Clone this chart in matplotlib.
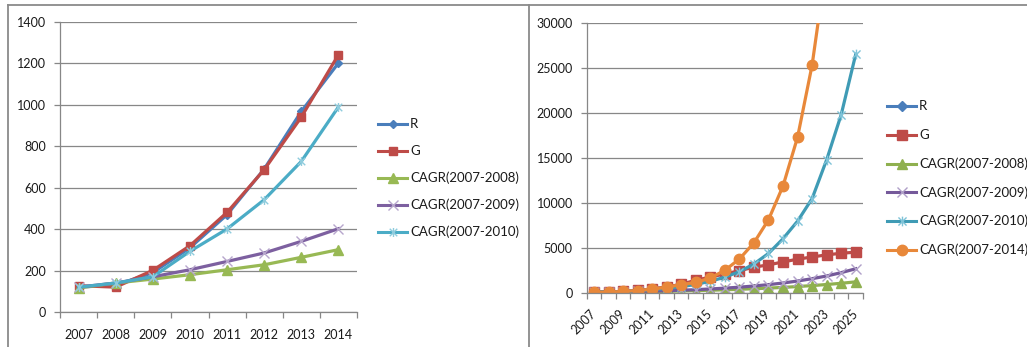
import matplotlib
matplotlib.use("Agg")
import matplotlib.pyplot as plt
from matplotlib.lines import Line2D
from matplotlib.path import Path

plt.rcParams["font.family"] = ["Lato", "DejaVu Sans"]

# ---- data: left chart (2007-2014) ----
years_left = ["2007", "2008", "2009", "2010", "2011", "2012", "2013", "2014"]
r_left = [120, 130, 190, 310, 470, 690, 968, 1202]
g_left = [127, 120, 201, 320, 481, 687, 941, 1242]
cagr0708_left = [116, 140, 159, 180, 204, 228, 264, 301]
cagr0709_left = [120, 140, 170, 204, 244, 285, 341, 402]
cagr0710_left = [120, 140, 170, 293, 401, 542, 727, 990]

# ---- data: right chart (2007-2025) ----
years_right = [str(y) for y in range(2007, 2026)]
r_right = [120, 130, 190, 310, 470, 690, 968, 1202]
g_right = [125, 150, 200, 320, 480, 700, 1000, 1450, 1800, 2150, 2500,
           2900, 3150, 3480, 3780, 4030, 4260, 4440, 4560]
cagr0708_right = [116, 140, 159, 180, 204, 228, 264, 301, 340, 390, 445,
                  505, 575, 655, 750, 855, 975, 1110, 1270]
cagr0709_right = [120, 140, 170, 204, 244, 285, 341, 402, 480, 570, 680,
                  810, 960, 1140, 1360, 1620, 1920, 2290, 2720]
cagr0710_right = [120, 140, 170, 293, 401, 542, 727, 990, 1330, 1790, 2400,
                  3250, 4420, 6050, 8000, 10500, 14800, 19800, 26500]
cagr0714_right = [130, 130, 200, 310, 460, 680, 960, 1200, 1700, 2550, 3800,
                  5600, 8150, 11900, 17300, 25300, 36700, 53300, 77300]

W, H = 1027, 347
GRID = "#878787"
TXT = "#1a1a1a"

# Excel-like "star" marker: an x with a vertical bar through it
STAR = Path([(-1, -1), (1, 1), (-1, 1), (1, -1), (0, -1.2), (0, 1.2)],
            [Path.MOVETO, Path.LINETO, Path.MOVETO, Path.LINETO,
             Path.MOVETO, Path.LINETO])

left_style = [
    ("R", "#4A7EBB", dict(marker="D", ms=4.5, mfc="#4A7EBB", mec="#4A7EBB")),
    ("G", "#BE4B48", dict(marker="s", ms=6, mfc="#BE4B48", mec="#BE4B48")),
    ("CAGR(2007-2008)", "#98B954", dict(marker="^", ms=6.5, mfc="#98B954", mec="#98B954")),
    ("CAGR(2007-2009)", "#7D60A0", dict(marker="x", ms=6.5, mec="#B7A6CC", mew=1.0)),
    ("CAGR(2007-2010)", "#4BACC6", dict(marker=STAR, ms=6.5, mec="#8FCCDD", mew=1.0)),
]
right_style = [
    ("R", "#4A7EBB", dict(marker="D", ms=5, mfc="#4A7EBB", mec="#4A7EBB")),
    ("G", "#BE4B48", dict(marker="s", ms=7, mfc="#BE4B48", mec="#BE4B48")),
    ("CAGR(2007-2008)", "#8FB04F", dict(marker="^", ms=7.5, mfc="#8FB04F", mec="#8FB04F")),
    ("CAGR(2007-2009)", "#75599A", dict(marker="x", ms=7, mec="#B0A0C8", mew=1.0)),
    ("CAGR(2007-2010)", "#3F9BB5", dict(marker=STAR, ms=7, mec="#7FC3D8", mew=1.0)),
    ("CAGR(2007-2014)", "#E8883A", dict(marker="o", ms=7.5, mfc="#E8883A", mec="#E8883A")),
]


def style_axis(ax, labels, ymax, ystep, rotate=False, label_every=1):
    n = len(labels)
    ax.set_xlim(-0.5, n - 0.5)
    ax.set_ylim(0, ymax)
    ax.set_yticks(range(0, ymax + 1, ystep))
    ax.yaxis.grid(True, color=GRID, lw=0.9)
    ax.set_axisbelow(True)
    for s in ("top", "right"):
        ax.spines[s].set_visible(False)
    for s in ("left", "bottom"):
        ax.spines[s].set_color(GRID)
        ax.spines[s].set_linewidth(0.9)
    ax.set_xticks([i - 0.5 for i in range(n + 1)])
    ax.set_xticklabels([])
    ax.set_xticks(range(n), minor=True)
    shown = [lab if i % label_every == 0 else "" for i, lab in enumerate(labels)]
    ax.tick_params(axis="both", which="major", direction="out", length=4,
                   color=GRID, width=0.9, labelsize=9, labelcolor=TXT)
    ax.tick_params(axis="y", pad=6)
    if rotate:
        ax.set_xticklabels(shown, minor=True, rotation=45, ha="right",
                           va="center", rotation_mode="anchor")
        ax.tick_params(axis="x", which="minor", length=0, pad=13,
                       labelsize=9, labelcolor=TXT)
    else:
        ax.set_xticklabels(shown, minor=True)
        ax.tick_params(axis="x", which="minor", length=0, pad=12,
                       labelsize=9, labelcolor=TXT)


def draw_legend(fig, styles, x0, x1, y_first, step):
    for k, (label, color, mk) in enumerate(styles):
        y = 1 - (y_first + k * step) / H
        fig.add_artist(Line2D([x0 / W, x1 / W], [y, y], color=color, lw=2.2,
                              transform=fig.transFigure))
        fig.add_artist(Line2D([(x0 + x1) / 2 / W], [y], color=color, lw=0,
                              transform=fig.transFigure, **mk))
        fig.text((x1 + 3) / W, y, label, fontsize=9.5, color=TXT,
                 va="center", ha="left")


fig = plt.figure(figsize=(W / 100, H / 100), dpi=100)

# panel frames
for xs, ys in [([8 / W, 1], [1 - 5 / H] * 2),
               ([8 / W] * 2, [0, 1 - 5 / H]),
               ([529 / W] * 2, [0, 1 - 5 / H])]:
    fig.add_artist(Line2D(xs, ys, color="#8a8a8a", lw=1.3,
                          transform=fig.transFigure))

# ---- left chart ----
ax1 = fig.add_axes([60 / W, 1 - 312 / H, 297 / W, 290 / H])
style_axis(ax1, years_left, 1400, 200)
left_series = [r_left, g_left, cagr0708_left, cagr0709_left, cagr0710_left]
for vals, (label, color, mk) in zip(left_series, left_style):
    ax1.plot(range(len(vals)), vals, color=color, lw=2.3, clip_on=False, **mk)
draw_legend(fig, left_style, 378, 407, 124, 27)

# ---- right chart ----
ax2 = fig.add_axes([586.7 / W, 1 - 293.3 / H, 276.3 / W, 270.6 / H])
style_axis(ax2, years_right, 30000, 5000, rotate=True, label_every=2)
right_series = [r_right, g_right, cagr0708_right, cagr0709_right,
                cagr0710_right, cagr0714_right]
for vals, (label, color, mk) in zip(right_series, right_style):
    ax2.plot(range(len(vals)), vals, color=color, lw=2.3, **mk)
draw_legend(fig, right_style, 887, 916, 106, 28.8)

fig.savefig("out.png", dpi=100)
